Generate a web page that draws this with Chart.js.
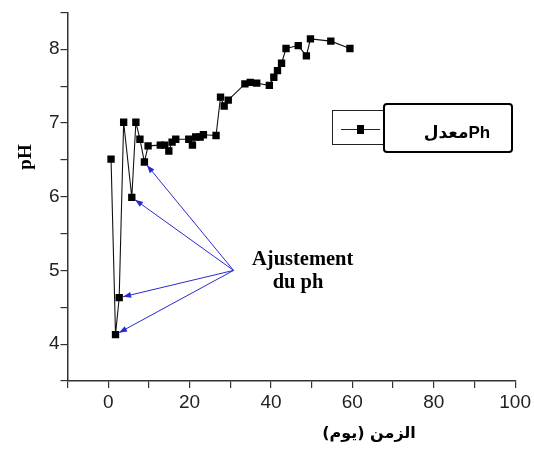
<!DOCTYPE html>
<html>
<head>
<meta charset="utf-8">
<script src="https://cdn.jsdelivr.net/npm/chart.js@4.4.1/dist/chart.umd.min.js"></script>
<style>
  html, body { margin: 0; padding: 0; background: #ffffff; }
  #wrap { width: 534px; height: 451px; position: relative; }
</style>
</head>
<body>
<div id="wrap"><canvas id="c"></canvas></div>
<script>
// ---- data ----
const days = [0.7,1.8,2.7,3.8,5.8,6.8,7.8,8.9,9.8,12.8,13.9,14.9,15.7,16.6,19.8,20.7,21.5,22.6,23.4,26.5,27.6,28.5,29.5,33.6,34.9,36.5,39.6,40.7,41.6,42.6,43.7,46.7,48.7,49.7,54.7,59.4];
const phValues = [6.51,4.13,4.63,7.01,5.99,7.01,6.78,6.47,6.69,6.70,6.70,6.62,6.74,6.78,6.78,6.70,6.81,6.81,6.84,6.83,7.35,7.23,7.31,7.53,7.55,7.54,7.51,7.62,7.71,7.81,8.01,8.05,7.91,8.14,8.11,8.01];
const xTickLabels = [0, 20, 40, 60, 80, 100];
const yTickLabels = [4, 5, 6, 7, 8];
const seriesLabel = 'معدلPh';
const xTitle = 'الزمن (يوم)';
const yTitle = 'pH';
const noteLines = ['Ajustement', 'du ph'];
const noteAnchor = [30.8, 5.0];          // arrows start here (days, pH)
const adjustedPoints = [7, 4, 2, 1];     // indices of points the arrows point at

const points = days.map((d, i) => ({ x: d, y: phValues[i] }));

const decor = {
  id: 'decor',
  afterDraw(chart) {
    const ctx = chart.ctx;
    const xs = chart.scales.x, ys = chart.scales.y;
    ctx.save();

    // axis titles
    ctx.fillStyle = '#000';
    ctx.font = 'bold 16px "DejaVu Sans", "Liberation Sans", sans-serif';
    ctx.textAlign = 'center';
    ctx.textBaseline = 'middle';
    ctx.fillText(xTitle, 369, 434);

    ctx.save();
    ctx.translate(26, 157);
    ctx.rotate(-Math.PI / 2);
    ctx.font = 'bold 19px "Liberation Serif", "DejaVu Serif", serif';
    ctx.fillText(yTitle, 0, 0);
    ctx.restore();

    // annotation arrows
    const ox = xs.getPixelForValue(noteAnchor[0]);
    const oy = ys.getPixelForValue(noteAnchor[1]);
    ctx.strokeStyle = '#2a2ad0';
    ctx.fillStyle = '#2a2ad0';
    ctx.lineWidth = 1;
    adjustedPoints.forEach(i => {
      const px = xs.getPixelForValue(days[i]);
      const py = ys.getPixelForValue(phValues[i]);
      const dx = ox - px, dy = oy - py;
      const len = Math.hypot(dx, dy);
      const ux = dx / len, uy = dy / len;
      const tx = px + ux * 4, ty = py + uy * 4;
      ctx.beginPath();
      ctx.moveTo(ox, oy);
      ctx.lineTo(tx, ty);
      ctx.stroke();
      const hl = 8, hw = 3;
      const bx = tx + ux * hl, by = ty + uy * hl;
      ctx.beginPath();
      ctx.moveTo(tx, ty);
      ctx.lineTo(bx - uy * hw, by + ux * hw);
      ctx.lineTo(bx + uy * hw, by - ux * hw);
      ctx.closePath();
      ctx.fill();
    });

    // annotation text
    ctx.fillStyle = '#000';
    ctx.font = 'bold 20.5px "Liberation Serif", "DejaVu Serif", serif';
    ctx.textAlign = 'left';
    ctx.textBaseline = 'alphabetic';
    ctx.fillText(noteLines[0], 252, 265);
    ctx.textAlign = 'center';
    ctx.fillText(noteLines[1], 298, 288);

    // legend: thin box with sample, thick box with label
    ctx.strokeStyle = '#222';
    ctx.lineWidth = 1;
    ctx.strokeRect(332.5, 110.5, 51, 34);
    ctx.beginPath();
    ctx.moveTo(341, 129.5);
    ctx.lineTo(380, 129.5);
    ctx.stroke();
    ctx.fillStyle = '#000';
    ctx.fillRect(357, 125, 7, 9);

    ctx.lineWidth = 4;
    ctx.strokeStyle = '#000';
    ctx.beginPath();
    ctx.roundRect(385, 105, 126, 46, 2);
    ctx.stroke();
    ctx.fillStyle = '#fff';
    ctx.fill();
    ctx.fillStyle = '#000';
    ctx.font = 'bold 17px "Liberation Sans", "DejaVu Sans", sans-serif';
    ctx.textAlign = 'center';
    ctx.textBaseline = 'alphabetic';
    ctx.direction = 'ltr';
    ctx.fillText(seriesLabel, 457, 138);

    ctx.restore();
  }
};

new Chart(document.getElementById('c'), {
  type: 'scatter',
  data: {
    datasets: [{
      label: seriesLabel,
      data: points,
      showLine: true,
      borderColor: '#111',
      borderWidth: 1.1,
      backgroundColor: '#000',
      pointStyle: 'rect',
      pointRadius: 5.2,
      pointHoverRadius: 5.2,
      pointBorderWidth: 0,
      tension: 0
    }]
  },
  options: {
    responsive: true,
    maintainAspectRatio: false,
    animation: false,
    layout: { padding: { left: 0, top: 11, right: 16, bottom: 0 } },
    plugins: { legend: { display: false }, tooltip: { enabled: false } },
    scales: {
      x: {
        type: 'linear',
        min: -10, max: 100,
        afterFit(s) { s.height = 70; },
        border: { display: true, color: '#333', width: 1.5 },
        grid: { display: true, drawOnChartArea: false, drawTicks: true, tickLength: 7, color: '#333', lineWidth: 1.2 },
        ticks: {
          stepSize: 10, autoSkip: false, maxRotation: 0, padding: 3,
          color: '#222',
          font: { family: '"Liberation Sans", Arial, sans-serif', size: 19 },
          callback: v => xTickLabels.includes(v) ? String(v) : ''
        },
        title: { display: false }
      },
      y: {
        type: 'linear',
        min: 3.5, max: 8.5,
        afterFit(s) { s.width = 67.5; },
        border: { display: true, color: '#333', width: 1.5 },
        grid: { display: true, drawOnChartArea: false, drawTicks: true, tickLength: 7, color: '#333', lineWidth: 1.2 },
        ticks: {
          stepSize: 0.5, autoSkip: false, padding: 1,
          color: '#222',
          font: { family: '"Liberation Sans", Arial, sans-serif', size: 19 },
          callback: v => yTickLabels.includes(v) ? String(v) : ''
        },
        title: { display: false }
      }
    }
  },
  plugins: [decor]
});
</script>
</body>
</html>
